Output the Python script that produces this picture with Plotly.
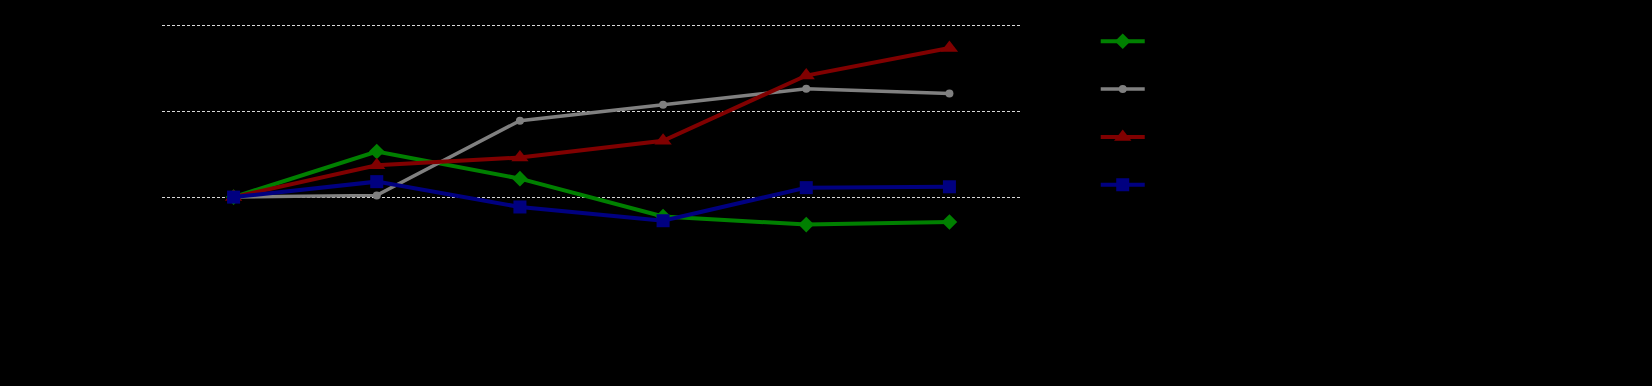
import plotly.graph_objects as go

categories = ["2015", "2016", "2017", "2018", "2019", "2020"]
series_names = ["Series A", "Series B", "Series C", "Series D"]
green_vals = [100.0, 110.6, 104.3, 95.5, 93.6, 94.2]
gray_vals = [100.0, 100.4, 117.8, 121.5, 125.2, 124.1]
red_vals = [100.0, 107.4, 109.2, 113.1, 128.3, 134.7]
blue_vals = [100.0, 103.6, 97.7, 94.5, 102.2, 102.4]
y_ticks = [100, 120, 140]

styles = [
    (green_vals, "#008000", "diamond", 12, 4),
    (gray_vals, "#808080", "circle", 8, 3.5),
    (red_vals, "#800000", "triangle-up", 15, 4),
    (blue_vals, "#000080", "square", 13, 4),
]

fig = go.Figure()
for name, (vals, color, sym, size, w) in zip(series_names, styles):
    fig.add_trace(go.Scatter(
        x=categories, y=vals, name=name, mode="lines+markers",
        legendgroup=name,
        line=dict(color=color, width=w),
        marker=dict(symbol=sym, size=size, color=color),
    ))

fig.update_layout(
    width=1652, height=386,
    paper_bgcolor="black", plot_bgcolor="black",
    margin=dict(l=162, r=631, t=21, b=103),
    font=dict(family="Liberation Sans", color="black", size=14),
    legend=dict(x=1.087, y=0.987, xanchor="left", yanchor="top",
                tracegroupgap=24, font=dict(color="black", size=16),
                bgcolor="rgba(0,0,0,0)", itemwidth=44),
    showlegend=True,
)
fig.update_xaxes(type="category", range=[-0.5, 5.5], showgrid=False,
                 showline=False, zeroline=False, tickfont=dict(color="black"))
fig.update_yaxes(range=[80, 141], tickvals=y_ticks, showgrid=True,
                 gridcolor="#d8d8d8", gridwidth=1, griddash="3px,2px",
                 zeroline=False, showline=False, tickfont=dict(color="black"))

fig.write_html("out.html", config={"displayModeBar": False},
               post_script="document.body.style.margin='0';document.body.style.background='black';")
